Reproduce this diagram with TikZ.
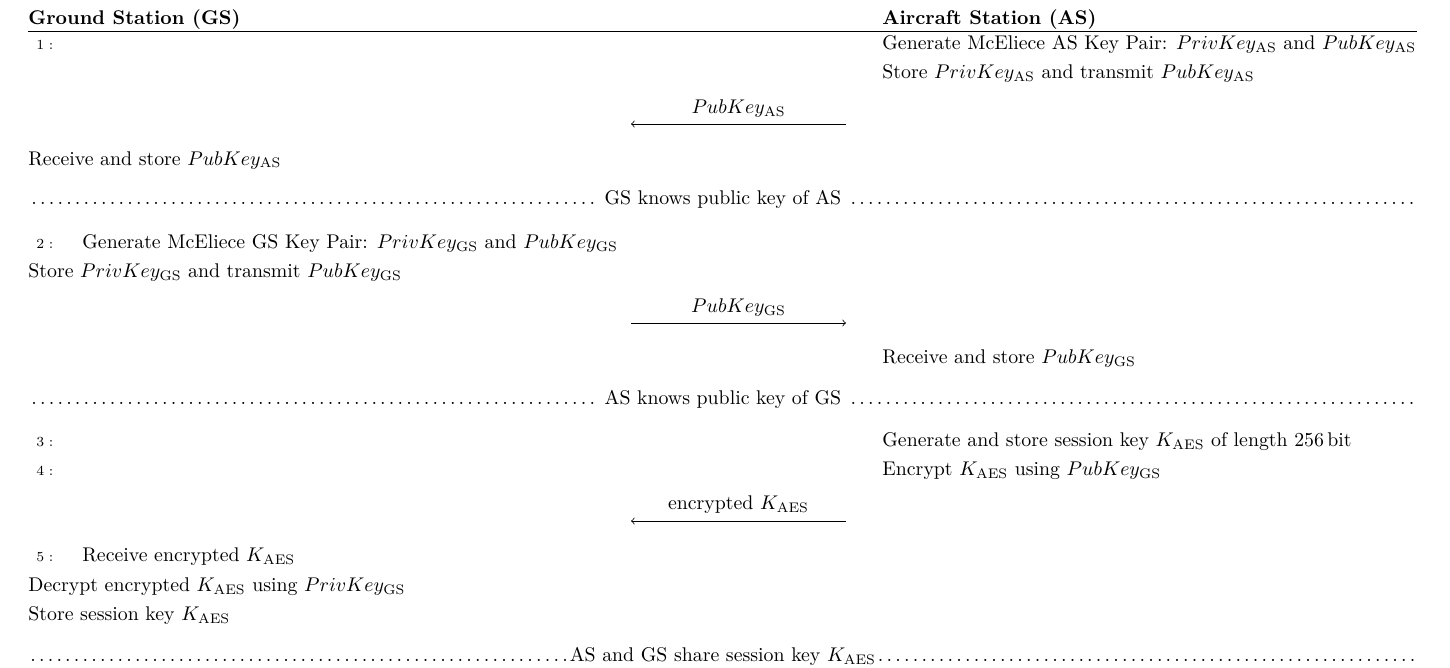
\documentclass[tikz,border=0pt]{standalone}
\usetikzlibrary{positioning}

\begin{document}
\begin{tikzpicture}[x=0.5045pt, y=-0.5045pt,
		txt/.style = {anchor=base west, inner sep=0},
		num/.style = {anchor=base west, inner sep=0, font=\scriptsize},
		sep/.style = {anchor=base west, inner sep=0, text width=700.75pt, align=center}]
		\useasboundingbox (0,0) rectangle (1450,667);
		% header
		\node[txt, font=\bfseries] (gs) at (28,24.5) {Ground Station (GS)};
		\node[txt, font=\bfseries] (as) at (882,24.5) {Aircraft Station (AS)};
		\coordinate (r1) at (28,31.5);
		\coordinate (r2) at (1417,31.5);
		\draw (r1) -- (r2);
		% AS key pair
		\node[num] (n1) at (36,49.5) {$1:$};
		\node[txt] (a1) at (882,49.5) {Generate McEliece AS Key Pair: $PrivKey_{\mathrm{AS}}$ and $PubKey_{\mathrm{AS}}$};
		\node[txt] (a2) at (882,78.5) {Store $PrivKey_{\mathrm{AS}}$ and transmit $PubKey_{\mathrm{AS}}$};
		\coordinate (p1) at (846,124);
		\coordinate (q1) at (631,124);
		\draw[->] (p1) -- (q1) node[midway, above] (m1) {$PubKey_{\mathrm{AS}}$};
		\node[txt] (g1) at (28,165) {Receive and store $PubKey_{\mathrm{AS}}$};
		\node[sep] (s1) at (28,204.5) {\dotfill\ GS knows public key of AS \dotfill};
		% GS key pair
		\node[num] (n2) at (36,248.5) {$2:$};
		\node[txt] (g2) at (82,248.5) {Generate McEliece GS Key Pair: $PrivKey_{\mathrm{GS}}$ and $PubKey_{\mathrm{GS}}$};
		\node[txt] (g3) at (28,277.5) {Store $PrivKey_{\mathrm{GS}}$ and transmit $PubKey_{\mathrm{GS}}$};
		\coordinate (p2) at (631,323);
		\coordinate (q2) at (846,323);
		\draw[->] (p2) -- (q2) node[midway, above] (m2) {$PubKey_{\mathrm{GS}}$};
		\node[txt] (a3) at (882,363.5) {Receive and store $PubKey_{\mathrm{GS}}$};
		\node[sep] (s2) at (28,404.5) {\dotfill\ AS knows public key of GS \dotfill};
		% session key
		\node[num] (n3) at (36,446.5) {$3:$};
		\node[txt] (a4) at (882,446.5) {Generate and store session key $K_{\mathrm{AES}}$ of length 256\,bit};
		\node[num] (n4) at (36,475.5) {$4:$};
		\node[txt] (a5) at (882,475.5) {Encrypt $K_{\mathrm{AES}}$ using $PubKey_{\mathrm{GS}}$};
		\coordinate (p3) at (846,521);
		\coordinate (q3) at (631,521);
		\draw[->] (p3) -- (q3) node[midway, above] (m3) {encrypted $K_{\mathrm{AES}}$};
		\node[num] (n5) at (36,561.5) {$5:$};
		\node[txt] (g4) at (82,561.5) {Receive encrypted $K_{\mathrm{AES}}$};
		\node[txt] (g5) at (28,591.5) {Decrypt encrypted $K_{\mathrm{AES}}$ using $PrivKey_{\mathrm{GS}}$};
		\node[txt] (g6) at (28,620.5) {Store session key $K_{\mathrm{AES}}$};
		\node[sep] (s3) at (28,661.5) {\dotfill AS and GS share session key $K_{\mathrm{AES}}$\dotfill};
	\end{tikzpicture}
\end{document}
